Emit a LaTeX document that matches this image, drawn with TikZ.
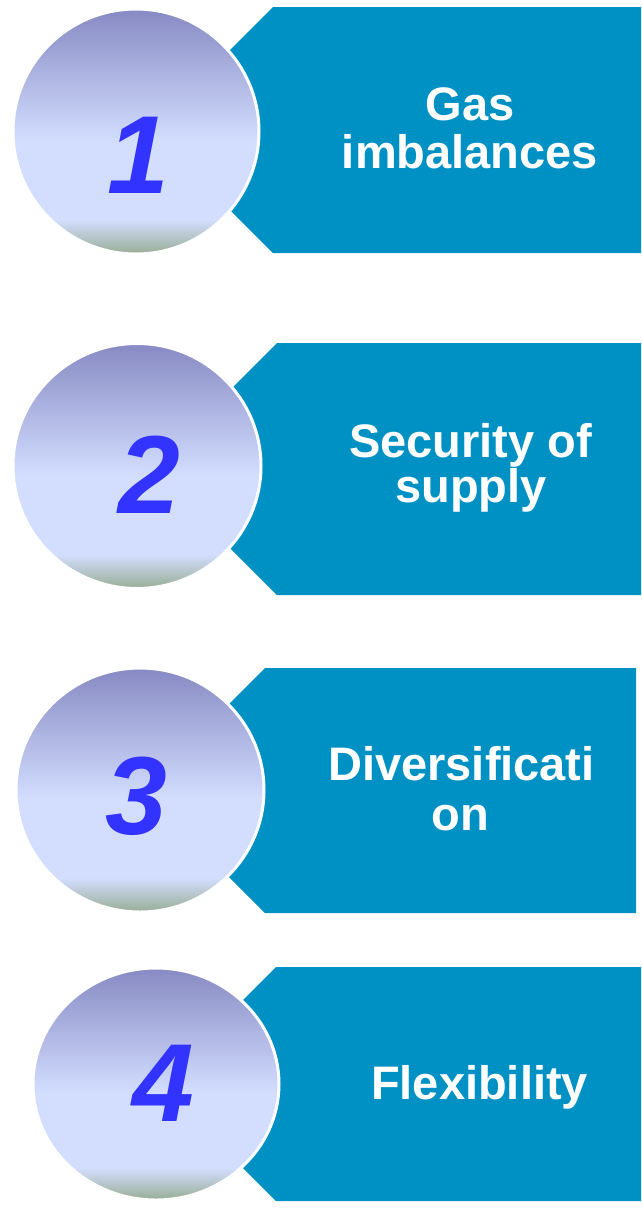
\documentclass[tikz,border=0pt]{standalone}
\usepackage{fontspec}
\setmainfont{Liberation Sans}
\usetikzlibrary{shapes.geometric}

\definecolor{tabblue}{HTML}{0091C4}
\definecolor{numblue}{HTML}{3333FF}
\definecolor{balltop}{HTML}{878AC3}
\definecolor{balllight}{HTML}{D3DEFF}
\definecolor{ballbottom}{HTML}{98AD96}

% the shading box is 100bp; the shaded shape covers its middle 50bp
\pgfdeclareverticalshading{ballshade}{100bp}{
  color(0bp)=(ballbottom);
  color(25bp)=(ballbottom);
  color(32bp)=(balllight);
  color(48bp)=(balllight);
  color(75bp)=(balltop);
  color(100bp)=(balltop)}

\tikzset{
  tab/.style={fill=tabblue, draw=none},
  ball/.style={ellipse, shading=ballshade, draw=white, line width=3pt,
    inner sep=0pt, outer sep=0pt},
  numlabel/.style={anchor=base, inner sep=0pt, text=numblue,
    font=\fontsize{111}{111}\selectfont\bfseries\itshape},
  tablabel/.style={anchor=base, inner sep=0pt, text=white,
    font=\fontsize{47}{49}\selectfont\bfseries}
}

\begin{document}
\begin{tikzpicture}[x=1pt, y=-1pt]
\useasboundingbox[fill=white] (0,0) rectangle (641,1208);

% arrow-shaped tabs
\fill[tab] (641,7) -- (273,7) -- (150,130) -- (273,253) -- (641,253) -- cycle;
\fill[tab] (641,343) -- (277,343) -- (151,469) -- (277,595) -- (641,595) -- cycle;
\fill[tab] (636,668) -- (265,668) -- (142.5,790.5) -- (265,913) -- (636,913) -- cycle;
\fill[tab] (641,967) -- (276,967) -- (159,1084) -- (276,1201) -- (641,1201) -- cycle;

% numbered balls
\node[ball, minimum width=246pt, minimum height=245pt] (b1) at (136,131.5) {};
\node[ball, minimum width=248pt, minimum height=245pt] (b2) at (137,466) {};
\node[ball, minimum width=248pt, minimum height=244pt] (b3) at (140,790) {};
\node[ball, minimum width=246pt, minimum height=232pt] (b4) at (156,1084) {};

\node[numlabel] (n1) at (138,193) {1};
\node[numlabel] (n2) at (149,513) {2};
\node[numlabel] (n3) at (136,834) {3};
\node[numlabel] (n4) at (163,1121) {4};

% tab captions
\node[tablabel] (t1a) at (470,120) {Gas};
\node[tablabel] (t1b) at (470,168) {imbalances};
\node[tablabel] (t2a) at (470.5,457) {Security of};
\node[tablabel] (t2b) at (471,502) {supply};
\node[tablabel] (t3a) at (461.5,780) {Diversificati};
\node[tablabel] (t3b) at (460.5,830) {on};
\node[tablabel] (t4) at (479.5,1099) {Flexibility};
\end{tikzpicture}
\end{document}
